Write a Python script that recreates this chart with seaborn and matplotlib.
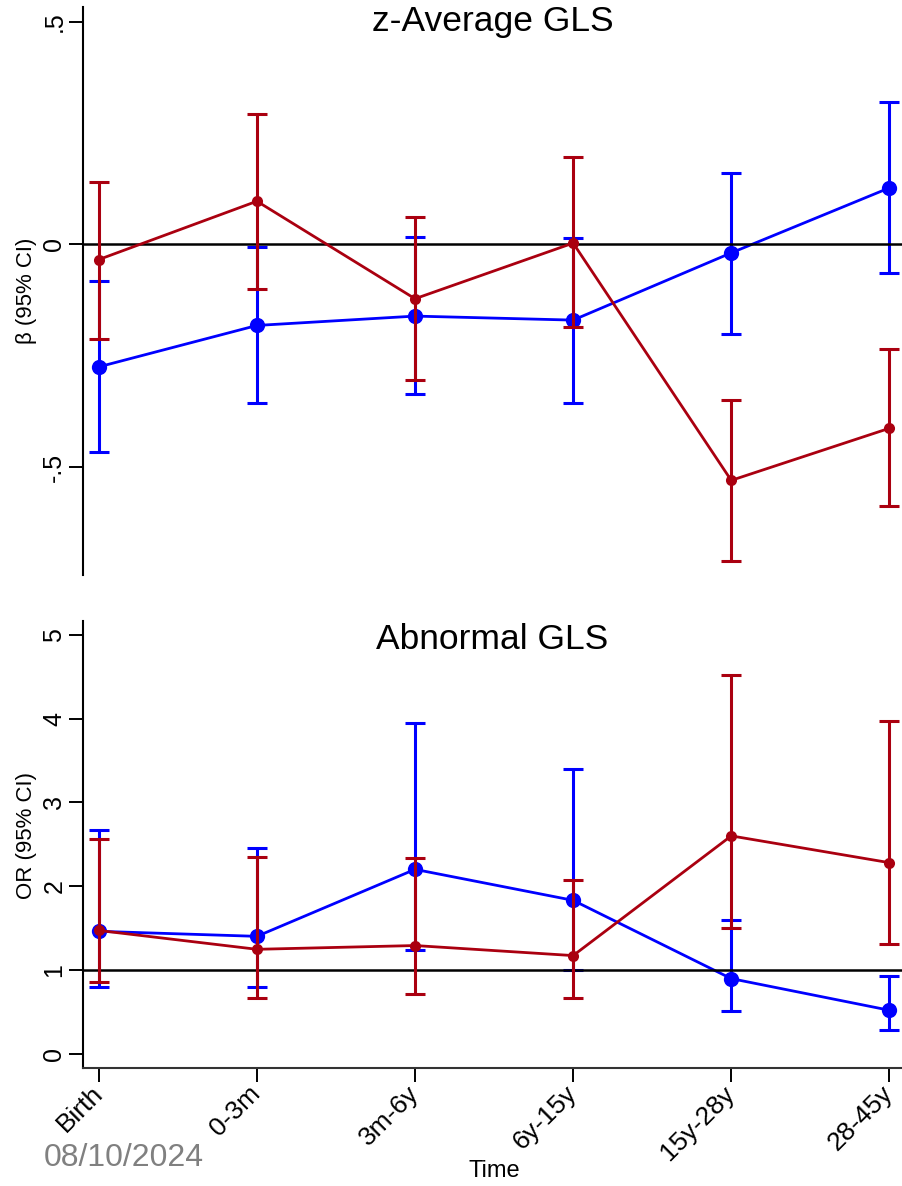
import numpy as np
import pandas as pd
import matplotlib
matplotlib.use('Agg')
import matplotlib.pyplot as plt
import seaborn as sns

# data
periods = ['Birth', '0-3m', '3m-6y', '6y-15y', '15y-28y', '28-45y']

# z-Average GLS (beta, 95% CI)
beta_blue = [-0.275, -0.182, -0.161, -0.170, -0.019, 0.127]
beta_blue_lo = [-0.467, -0.357, -0.336, -0.357, -0.201, -0.065]
beta_blue_hi = [-0.083, -0.006, 0.016, 0.014, 0.161, 0.320]

beta_red = [-0.034, 0.097, -0.122, 0.003, -0.530, -0.413]
beta_red_lo = [-0.213, -0.100, -0.305, -0.186, -0.710, -0.588]
beta_red_hi = [0.141, 0.293, 0.061, 0.196, -0.350, -0.235]

# Abnormal GLS (OR, 95% CI)
or_blue = [1.46, 1.40, 2.20, 1.83, 0.895, 0.517]
or_blue_lo = [0.795, 0.795, 1.233, 0.995, 0.505, 0.287]
or_blue_hi = [2.67, 2.46, 3.95, 3.40, 1.60, 0.93]

or_red = [1.47, 1.245, 1.29, 1.17, 2.60, 2.28]
or_red_lo = [0.855, 0.665, 0.71, 0.665, 1.50, 1.31]
or_red_hi = [2.56, 2.35, 2.34, 2.07, 4.52, 3.97]

BLUE = '#0000FF'
RED = '#AA0010'

sns.set_style('white')
plt.rcParams['font.family'] = ['Liberation Sans', 'DejaVu Sans']
plt.rcParams['text.color'] = 'black'
plt.rcParams['axes.labelcolor'] = 'black'
plt.rcParams['xtick.color'] = 'black'
plt.rcParams['ytick.color'] = 'black'

fig = plt.figure(figsize=(9.02, 11.86), dpi=100)
ax_top = fig.add_axes([0.092, 0.515, 0.908, 0.479])
ax_bot = fig.add_axes([0.092, 0.0997, 0.908, 0.3769])

x = np.arange(len(periods))


def draw_series(ax, est, lo, hi, color, msize, z):
    df = pd.DataFrame({'x': x, 'est': est})
    est = np.array(est)
    err = [est - np.array(lo), np.array(hi) - est]
    ax.errorbar(x, est, yerr=err, fmt='none', ecolor=color, elinewidth=2.2,
                capsize=7, capthick=2.2, zorder=z)
    sns.lineplot(data=df, x='x', y='est', ax=ax, color=color, linewidth=2,
                 marker='o', markersize=msize, markeredgewidth=0,
                 markerfacecolor=color, zorder=z + 0.5)


def style_axis(ax, title, title_y, ylabel, label_y):
    ax.set_xlim(-0.1, 5.08)
    for side in ['top', 'right']:
        ax.spines[side].set_visible(False)
    ax.spines['left'].set_linewidth(1.5)
    ax.spines['left'].set_color('black')
    ax.tick_params(axis='y', which='major', left=True, length=10, width=1.4,
                   labelsize=18, labelrotation=90, color='black', pad=2)
    for lab in ax.get_yticklabels():
        lab.set_verticalalignment('center')
    ax.set_ylabel('')
    ax.text(-0.069, label_y, ylabel, transform=ax.transAxes, rotation=90,
            ha='center', va='center', fontsize=16)
    ax.text(0.5, title_y, title, transform=ax.transAxes, ha='center',
            va='center', fontsize=25.5)


# top panel
ax_top.axhline(0, color='black', linewidth=1.8, zorder=3)
draw_series(ax_top, beta_blue, beta_blue_lo, beta_blue_hi, BLUE, 11, 2)
draw_series(ax_top, beta_red, beta_red_lo, beta_red_hi, RED, 8, 4)
ax_top.set_ylim(-0.743, 0.533)
ax_top.set_yticks([-0.5, 0, 0.5])
ax_top.set_yticklabels(['-.5', '0', '.5'])
ax_top.spines['bottom'].set_visible(False)
ax_top.set_xticks([])
ax_top.set_xlabel('')
style_axis(ax_top, 'z-Average GLS', 0.974, 'β (95% CI)', 0.5)

# bottom panel
ax_bot.axhline(1, color='black', linewidth=1.8, zorder=3)
draw_series(ax_bot, or_blue, or_blue_lo, or_blue_hi, BLUE, 11, 2)
draw_series(ax_bot, or_red, or_red_lo, or_red_hi, RED, 8, 4)
ax_bot.set_ylim(-0.17, 5.17)
ax_bot.set_yticks([0, 1, 2, 3, 4, 5])
ax_bot.set_yticklabels(['0', '1', '2', '3', '4', '5'])
ax_bot.spines['bottom'].set_linewidth(1.5)
ax_bot.spines['bottom'].set_color('#333333')
ax_bot.set_xticks(x)
ax_bot.set_xticklabels(periods, rotation=45, ha='right', va='center',
                       rotation_mode='anchor', fontsize=19)
ax_bot.tick_params(axis='x', bottom=True, length=10, width=1.4, color='black', pad=6)
ax_bot.set_xlabel('')
style_axis(ax_bot, 'Abnormal GLS', 0.957, 'OR (95% CI)', 0.52)

fig.text(0.548, 0.0127, 'Time', fontsize=17, ha='center', va='center')
fig.text(0.049, 0.024, '08/10/2024', fontsize=23, color='#808080',
         ha='left', va='center')

fig.savefig('out.png', dpi=100)
